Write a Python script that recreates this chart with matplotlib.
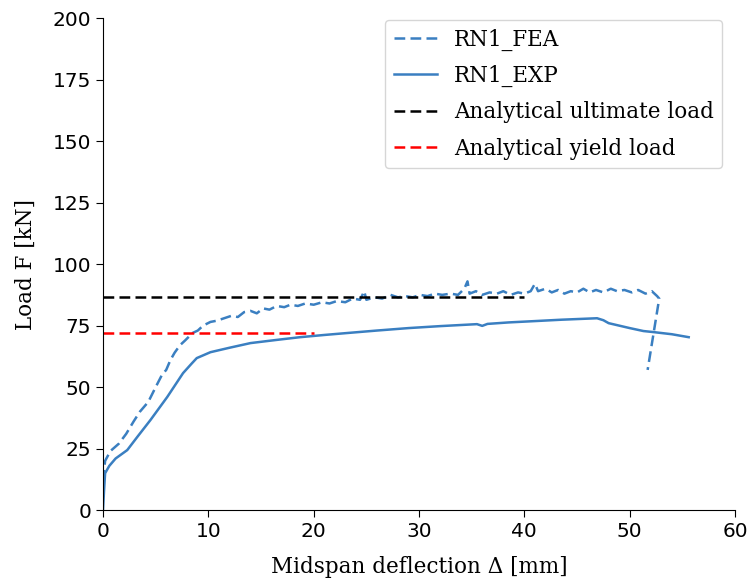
import matplotlib
matplotlib.use("Agg")
import matplotlib.pyplot as plt

fea_x = [0, 0.2, 0.7, 1.5, 2.2, 2.9, 3.5, 4.3, 5.0, 5.6, 6.0, 6.4, 6.8, 7.3, 7.8, 8.5, 9.0, 9.5,
         10.2, 10.8, 11.5, 12.2, 12.8, 13.4, 14.0, 14.6, 15.2, 15.8, 16.5, 17.2, 17.8, 18.5, 19.2,
         20.0, 20.8, 21.5, 22.2, 23.0, 23.7, 24.4, 24.8, 25.0, 25.8, 26.5, 27.3, 28.0, 28.7, 29.4,
         30.1, 30.8, 31.5, 32.2, 33.0, 33.7, 34.3, 34.6, 34.8, 35.4, 36.0, 36.7, 37.4, 38.0, 38.7,
         39.4, 40.0, 40.6, 41.0, 41.3, 42.0, 42.6, 43.2, 43.8, 44.4, 45.0, 45.6, 46.2, 46.8, 47.5,
         48.2, 48.8, 49.5, 50.2, 50.8, 51.5, 52.1, 52.6, 52.8, 51.7]
fea_y = [12, 20, 24, 27, 31, 36, 40, 44, 50, 55, 57, 61, 64, 67, 69, 72, 73, 75,
         76.5, 77, 78, 79, 78.5, 80.5, 81, 80, 82, 81.5, 83, 82.5, 83.5, 83, 84,
         83.5, 84.5, 84, 85, 84.5, 86, 85.5, 89, 85.5, 86.5, 86, 87.5, 86.5, 87, 86.5,
         87.5, 87, 88, 87.5, 88, 87.5, 90, 93, 88, 89, 87.5, 88.5, 88, 89, 87.5,
         88.5, 88, 89, 92, 89, 90, 88.5, 89.5, 88, 89, 88.5, 90, 88.5, 89.5, 88.5,
         90, 89, 89.5, 88.5, 89.5, 88, 89, 87, 86, 57]

exp_x = [0, 0.1, 0.2, 0.6, 1.2, 2.3, 3.3, 4.5, 6.1, 7.6, 8.4, 8.9, 10.2, 12.0, 14.0, 16.5, 18.7,
         21.0, 23.2, 26.0, 29.0, 32.0, 35.5, 36.0, 36.5, 38.5, 40.8, 43.5, 46.9, 47.5, 48.0, 48.8,
         50.0, 51.3, 52.2, 54.0, 55.6]
exp_y = [0, 8, 15, 18, 21, 24.4, 30, 36.6, 46, 55.7, 59.5, 61.8, 64.2, 66.0, 67.9, 69.2, 70.3,
         71.2, 72, 73, 74, 74.8, 75.6, 74.9, 75.7, 76.3, 76.8, 77.4, 78, 77.2, 76, 75.2,
         74.0, 72.8, 72.4, 71.5, 70.3]

ult_x = [0, 40]
ult_y = [86.5, 86.5]
yld_x = [0, 20]
yld_y = [72, 72]

fig = plt.figure(figsize=(7.48, 5.85), dpi=100)
ax = fig.add_axes([0.1377, 0.128, 0.845, 0.841])
blue = "#3a7fc1"
lw = 1.8
dash = (0, (4.3, 2.1))
ax.plot(fea_x, fea_y, linestyle=dash, color=blue, lw=lw, label="RN1_FEA")
ax.plot(exp_x, exp_y, "-", color=blue, lw=lw, label="RN1_EXP")
ax.plot(ult_x, ult_y, linestyle=dash, color="black", lw=lw, label="Analytical ultimate load")
ax.plot(yld_x, yld_y, linestyle=dash, color="red", lw=lw, label="Analytical yield load")

ax.set_xlim(0, 60)
ax.set_ylim(0, 200)
ax.set_xticks(range(0, 61, 10))
ax.set_yticks(range(0, 201, 25))
ax.tick_params(labelsize=14.5, length=5)
ax.spines["top"].set_visible(False)
ax.spines["right"].set_visible(False)
ax.set_xlabel("Midspan deflection Δ [mm]", family="DejaVu Serif", fontsize=15.5, labelpad=11)
ax.set_ylabel("Load F [kN]", family="DejaVu Serif", fontsize=15.5, labelpad=11)
ax.legend(loc="upper right", prop={"family": "DejaVu Serif", "size": 15.5},
          bbox_to_anchor=(0.997, 1.018), labelspacing=0.66)
fig.savefig("out.png", dpi=100)
